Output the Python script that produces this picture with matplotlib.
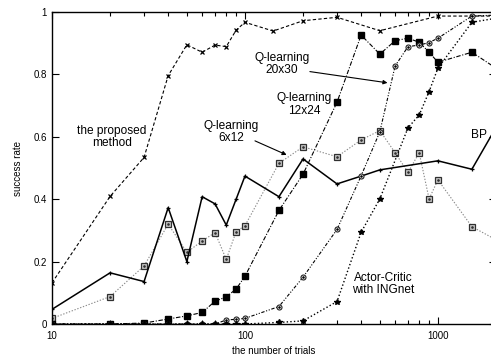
import matplotlib
matplotlib.use("Agg")
import matplotlib.pyplot as plt
from matplotlib.ticker import FixedLocator, LogLocator, NullFormatter

plt.rcParams['font.family'] = ['Liberation Sans', 'DejaVu Sans']

# success rate versus number of trials
proposed_x = [10, 20, 30, 40, 50, 60, 70, 80, 90, 100, 140, 200, 300, 500, 1000, 2000]
proposed_y = [0.132, 0.409, 0.534, 0.796, 0.895, 0.871, 0.894, 0.889, 0.942, 0.967,
              0.939, 0.972, 0.983, 0.940, 0.987, 0.987]

q2030_x = [10, 20, 30, 40, 50, 60, 70, 80, 90, 100, 150, 200, 300, 400, 500, 600, 700,
           800, 900, 1000, 1500, 2000]
q2030_y = [0.0, 0.0, 0.003, 0.016, 0.026, 0.037, 0.073, 0.087, 0.112, 0.153, 0.364, 0.480,
           0.711, 0.926, 0.865, 0.908, 0.916, 0.903, 0.871, 0.839, 0.871, 0.820]

q1224_x = [10, 20, 30, 40, 50, 60, 70, 80, 90, 100, 150, 200, 300, 400, 500, 600, 700,
           800, 900, 1000, 1500, 2000]
q1224_y = [0.0, 0.0, 0.0, 0.0, 0.0, 0.0, 0.0, 0.013, 0.015, 0.018, 0.056, 0.150, 0.303,
           0.475, 0.616, 0.827, 0.889, 0.894, 0.902, 0.916, 0.987, 0.990]

ac_x = [10, 20, 30, 40, 50, 60, 70, 80, 90, 100, 150, 200, 300, 400, 500, 700, 800, 900,
        1000, 1500, 2000]
ac_y = [0.0, 0.0, 0.0, 0.0, 0.0, 0.0, 0.0, 0.0, 0.0, 0.0, 0.005, 0.010, 0.072, 0.294,
        0.401, 0.629, 0.670, 0.745, 0.820, 0.967, 0.980]

q612_x = [10, 20, 30, 40, 50, 60, 70, 80, 90, 100, 150, 200, 300, 400, 500, 600, 700,
          800, 900, 1000, 1500, 2000]
q612_y = [0.018, 0.088, 0.186, 0.320, 0.230, 0.266, 0.293, 0.207, 0.296, 0.315, 0.515,
          0.568, 0.536, 0.590, 0.620, 0.549, 0.486, 0.549, 0.401, 0.462, 0.312, 0.270]

bp_x = [10, 20, 30, 40, 50, 60, 70, 80, 90, 100, 150, 200, 300, 400, 500, 1000, 1500, 2000]
bp_y = [0.047, 0.164, 0.136, 0.373, 0.200, 0.408, 0.385, 0.317, 0.400, 0.474, 0.408,
        0.529, 0.449, 0.474, 0.494, 0.523, 0.496, 0.630]

y_ticks = [0, 0.2, 0.4, 0.6, 0.8, 1]
y_tick_labels = ["0", "0.2", "0.4", "0.6", "0.8", "1"]
x_ticks = [10, 100, 1000]
x_tick_labels = ["10", "100", "1000"]

fig = plt.figure(figsize=(4.91, 3.56), dpi=100)
ax = fig.add_axes([52 / 491, 32 / 356, 444 / 491, 312 / 356])
ax.set_xscale('log')

lw = 0.8
ax.plot(q612_x, q612_y, linestyle=(0, (1.2, 1.5)), color='#8a8a8a', lw=lw,
        marker='s', ms=4.0, mfc='#c8c8c8', mec='#303030', mew=0.9, zorder=2)
ax.plot(q612_x, q612_y, linestyle='none', marker='.', ms=1.8, color='#303030', zorder=2.1)

ax.plot(bp_x, bp_y, linestyle='-', color='black', lw=1.1,
        marker='+', ms=3.3, mew=0.9, zorder=3)

ax.plot(q2030_x, q2030_y, linestyle=(0, (4, 1.5, 1, 1.5)), color='black', lw=lw,
        marker='s', ms=4.2, mfc='black', mec='black', zorder=3)

ax.plot(q1224_x, q1224_y, linestyle=(0, (3, 1.5, 1, 1.5, 1, 1.5)), color='black', lw=lw,
        marker='o', ms=3.6, mfc='white', mec='#202020', mew=0.8, zorder=3)
ax.plot(q1224_x, q1224_y, linestyle='none', marker='.', ms=1.7, color='black', zorder=3.1)

ax.plot(ac_x, ac_y, linestyle=(0, (1, 1.6)), color='black', lw=1.0,
        marker='*', ms=4.0, mfc='black', mec='black', zorder=3)

ax.plot(proposed_x, proposed_y, linestyle=(0, (3, 2)), color='black', lw=lw,
        marker='x', ms=3.5, mew=0.9, zorder=4)

ax.set_xlim(10, 2000)
ax.set_ylim(0, 1)

ax.xaxis.set_major_locator(FixedLocator(x_ticks))
ax.set_xticklabels(x_tick_labels)
ax.xaxis.set_minor_locator(LogLocator(base=10, subs=range(2, 10)))
ax.xaxis.set_minor_formatter(NullFormatter())
ax.set_yticks(y_ticks)
ax.set_yticklabels(y_tick_labels)

ax.tick_params(which='both', direction='in', top=True, right=True, labelsize=7,
               width=0.8, colors='black')
ax.tick_params(which='major', length=5)
ax.tick_params(which='minor', length=3)
ax.tick_params(axis='x', pad=5)
for sp in ax.spines.values():
    sp.set_linewidth(1.0)

ax.set_xlabel("the number of trials", fontsize=7, labelpad=4)
ax.set_ylabel("success rate", fontsize=7, labelpad=8)

tfs = 8.6
ax.text(20.5, 0.60, "the proposed\nmethod", ha='center', va='center', fontsize=tfs,
        linespacing=1.05)
ax.text(84.5, 0.615, "Q-learning\n6x12", ha='center', va='center', fontsize=tfs,
        linespacing=1.05)
ax.text(155.6, 0.833, "Q-learning\n20x30", ha='center', va='center', fontsize=tfs,
        linespacing=1.05)
ax.text(202, 0.704, "Q-learning\n12x24", ha='center', va='center', fontsize=tfs,
        linespacing=1.05)
ax.text(1629, 0.606, "BP", ha='center', va='center', fontsize=tfs)
ax.text(519, 0.128, "Actor-Critic\nwith INGnet", ha='center', va='center', fontsize=tfs,
        linespacing=1.05)

arrow = dict(arrowstyle='-|>', color='black', lw=0.8, mutation_scale=6,
             shrinkA=0, shrinkB=0)
ax.annotate("", xy=(164.4, 0.542), xytext=(112.7, 0.587), arrowprops=arrow)
ax.annotate("", xy=(548, 0.773), xytext=(217, 0.809), arrowprops=arrow)

fig.savefig("out.png", dpi=100)
